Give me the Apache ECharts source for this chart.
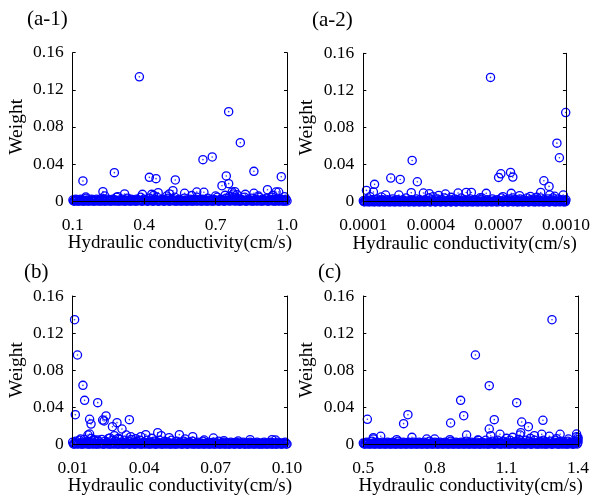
<!DOCTYPE html>
<html><head><meta charset="utf-8">
<script src="https://cdn.jsdelivr.net/npm/echarts@6/dist/echarts.min.js"></script>
<style>html,body{margin:0;padding:0;background:#fff}#c{width:593px;height:498px}</style>
</head><body><div id="c"></div>
<script>
const panelTitles = ['(a-1)', '(a-2)', '(b)', '(c)'];
const xName = 'Hydraulic conductivity(cm/s)';
const yName = 'Weight';
const yTicks = [0, 0.04, 0.08, 0.12, 0.16];
const xRangeA1 = [0.1, 1.0];
const xRangeA2 = [0.0001, 0.0010];
const xRangeB = [0.01, 0.10];
const xRangeC = [0.5, 1.4];
const xTicksA1 = [0.1, 0.4, 0.7, 1.0];
const xTicksA2 = [0.0001, 0.0004, 0.0007, 0.0010];
const xTicksB = [0.01, 0.04, 0.07, 0.10];
const xTicksC = [0.5, 0.8, 1.1, 1.4];
const xLabelsA1 = ['0.1', '0.4', '0.7', '1.0'];
const xLabelsA2 = ['0.0001', '0.0004', '0.0007', '0.0010'];
const xLabelsB = ['0.01', '0.04', '0.07', '0.10'];
const xLabelsC = ['0.5', '0.8', '1.1', '1.4'];

// [hydraulic conductivity, weight] — points standing above the base band
const pointsA1 = [[0.38,0.134],[0.755,0.0964],[0.804,0.0629],[0.686,0.0475],[0.647,0.0446],[0.275,0.0306],[0.861,0.032],[0.143,0.0216],[0.422,0.0255],[0.45,0.0241],[0.531,0.0227],[0.745,0.027],[0.976,0.0262],[0.727,0.0165],[0.755,0.0187],[0.227,0.0101],[0.318,0.0076],[0.393,0.0072],[0.432,0.0072],[0.459,0.009],[0.506,0.0076],[0.521,0.0111],[0.57,0.0083],[0.621,0.0097],[0.651,0.0094],[0.77,0.0097],[0.781,0.01],[0.775,0.0076],[0.825,0.0072],[0.861,0.0083],[0.918,0.0122],[0.954,0.0097],[0.965,0.0097],[0.989,0.0047],[0.155,0.0043],[0.235,0.0054],[0.29,0.0047],[0.44,0.006],[0.495,0.0054],[0.6,0.0058],[0.7,0.0054],[0.74,0.0061],[0.79,0.0068],[0.88,0.0054],[0.94,0.0061]];
const pointsA2 = [[0.000665,0.134],[0.000999,0.0961],[0.00096,0.0631],[0.000971,0.0474],[0.000317,0.0445],[0.000222,0.0255],[0.000264,0.024],[0.00034,0.0215],[0.000114,0.0122],[0.00015,0.0187],[0.000145,0.0104],[0.000701,0.0262],[0.000711,0.0301],[0.000754,0.0316],[0.000764,0.0265],[0.000902,0.0226],[0.000925,0.0165],[0.000888,0.01],[0.000928,0.0072],[0.000988,0.0072],[0.000199,0.0072],[0.000258,0.0072],[0.000313,0.0097],[0.000367,0.0093],[0.000393,0.0086],[0.000435,0.0068],[0.000465,0.0083],[0.000521,0.0093],[0.000557,0.01],[0.00058,0.01],[0.000646,0.009],[0.000757,0.009],[0.000794,0.0065],[0.000842,0.0057],[0.00013,0.0054],[0.00018,0.005],[0.00041,0.0054],[0.00049,0.0047],[0.00062,0.0043],[0.00072,0.0054],[0.00087,0.0047],[0.00095,0.0058]];
const pointsB = [[0.0108,0.1344],[0.012,0.0962],[0.0143,0.0634],[0.015,0.0472],[0.0205,0.0447],[0.0111,0.0317],[0.0171,0.0267],[0.0177,0.0216],[0.024,0.0303],[0.0226,0.0259],[0.0232,0.0249],[0.0286,0.0231],[0.0338,0.0263],[0.0267,0.0187],[0.0307,0.0162],[0.0164,0.0097],[0.0171,0.0108],[0.0325,0.0097],[0.0344,0.0079],[0.0257,0.0065],[0.0275,0.009],[0.0386,0.0079],[0.0407,0.0101],[0.0457,0.0122],[0.0472,0.009],[0.0548,0.0101],[0.0604,0.0079],[0.0691,0.0065],[0.0845,0.0047],[0.0937,0.0047],[0.0952,0.0043],[0.0188,0.0047],[0.0205,0.0043],[0.0133,0.0054],[0.0292,0.0061],[0.0365,0.0058],[0.0432,0.0061],[0.0505,0.0068],[0.0572,0.0054],[0.0652,0.0043],[0.0735,0.0036],[0.0795,0.0032]];
const pointsC = [[1.291,0.1344],[0.97,0.0962],[1.028,0.0631],[0.908,0.0472],[1.143,0.0447],[0.517,0.0267],[0.687,0.0317],[0.669,0.022],[0.866,0.0227],[0.921,0.0306],[1.049,0.0263],[1.028,0.0162],[1.164,0.0238],[1.192,0.0187],[1.253,0.0256],[1.16,0.0122],[0.933,0.0097],[1.034,0.009],[1.073,0.0105],[0.573,0.0083],[0.542,0.0068],[0.704,0.0072],[0.766,0.0054],[0.799,0.0054],[0.863,0.0047],[1.126,0.0072],[1.217,0.009],[1.248,0.0105],[1.28,0.0083],[1.325,0.0105],[1.394,0.0108],[1.394,0.0079],[1.157,0.0097],[0.542,0.0054],[0.64,0.0047],[0.98,0.0043],[1.1,0.0061],[1.2,0.0061],[1.31,0.0058],[1.36,0.0054]];

// [hydraulic conductivity, weight] — the dense cloud of near-zero weights
const bandA1 = [[0.101,0.001],[0.106,0],[0.113,0.002],[0.119,0.001],[0.127,0],[0.134,0.002],[0.141,0.001],[0.148,0],[0.156,0.003],[0.162,0.001],[0.17,0],[0.179,0.002],[0.185,0.001],[0.192,0],[0.2,0.002],[0.208,0.001],[0.217,0],[0.223,0.003],[0.231,0.001],[0.238,0],[0.246,0.002],[0.255,0.001],[0.261,0],[0.269,0.002],[0.278,0.001],[0.284,0.004],[0.291,0],[0.299,0.001],[0.309,0.002],[0.316,0],[0.322,0.001],[0.33,0.003],[0.339,0],[0.345,0.002],[0.353,0.001],[0.362,0],[0.368,0.002],[0.376,0.001],[0.385,0.004],[0.391,0],[0.399,0.002],[0.408,0.001],[0.414,0],[0.422,0.003],[0.431,0.001],[0.437,0],[0.445,0.002],[0.454,0.004],[0.46,0],[0.468,0.001],[0.477,0.002],[0.483,0],[0.491,0.001],[0.5,0.003],[0.506,0],[0.514,0.002],[0.523,0.001],[0.529,0.004],[0.537,0],[0.546,0.002],[0.552,0.001],[0.56,0],[0.569,0.003],[0.575,0.001],[0.583,0],[0.592,0.002],[0.598,0.001],[0.606,0],[0.615,0.002],[0.621,0.004],[0.629,0.001],[0.638,0],[0.644,0.002],[0.652,0.001],[0.661,0],[0.667,0.003],[0.675,0.001],[0.684,0],[0.69,0.002],[0.698,0.001],[0.707,0.004],[0.713,0],[0.721,0.002],[0.73,0.001],[0.736,0],[0.744,0.003],[0.753,0.001],[0.759,0.005],[0.767,0.002],[0.776,0.004],[0.782,0.001],[0.79,0.003],[0.799,0],[0.805,0.002],[0.813,0.001],[0.822,0.004],[0.828,0],[0.836,0.002],[0.845,0.001],[0.851,0.003],[0.859,0],[0.868,0.002],[0.874,0.001],[0.882,0.004],[0.891,0],[0.897,0.002],[0.905,0.001],[0.914,0.003],[0.92,0],[0.928,0.002],[0.937,0.004],[0.943,0.001],[0.951,0],[0.96,0.003],[0.966,0.001],[0.974,0.002],[0.983,0],[0.989,0.001],[0.996,0.002],[1.0,0]];
const zeroA1 = [[0.104,0],[0.11,0.0005],[0.116,0],[0.123,0],[0.131,0.0005],[0.138,0],[0.145,0],[0.152,0.0005],[0.159,0],[0.166,0],[0.175,0.0005],[0.182,0],[0.189,0],[0.196,0.0005],[0.204,0],[0.212,0],[0.22,0.0005],[0.227,0],[0.235,0],[0.242,0.0005],[0.25,0],[0.258,0],[0.265,0.0005],[0.273,0],[0.281,0],[0.288,0.0005],[0.295,0],[0.304,0],[0.312,0.0005],[0.319,0],[0.326,0],[0.335,0.0005],[0.342,0],[0.349,0],[0.357,0.0005],[0.365,0],[0.372,0],[0.38,0.0005],[0.388,0],[0.395,0],[0.403,0.0005],[0.411,0],[0.418,0],[0.426,0.0005],[0.434,0],[0.441,0],[0.449,0.0005],[0.457,0],[0.464,0],[0.472,0.0005],[0.48,0],[0.487,0],[0.495,0.0005],[0.503,0],[0.51,0],[0.518,0.0005],[0.526,0],[0.533,0],[0.541,0.0005],[0.549,0],[0.556,0],[0.564,0.0005],[0.572,0],[0.579,0],[0.587,0.0005],[0.595,0],[0.602,0],[0.61,0.0005],[0.618,0],[0.625,0],[0.633,0.0005],[0.641,0],[0.648,0],[0.656,0.0005],[0.664,0],[0.671,0],[0.679,0.0005],[0.687,0],[0.694,0],[0.702,0.0005],[0.71,0],[0.717,0],[0.725,0.0005],[0.733,0],[0.74,0],[0.748,0.0005],[0.756,0],[0.763,0],[0.771,0.0005],[0.779,0],[0.786,0],[0.794,0.0005],[0.802,0],[0.809,0],[0.817,0.0005],[0.825,0],[0.832,0],[0.84,0.0005],[0.848,0],[0.855,0],[0.863,0.0005],[0.871,0],[0.878,0],[0.886,0.0005],[0.894,0],[0.901,0],[0.909,0.0005],[0.917,0],[0.924,0],[0.932,0.0005],[0.94,0],[0.947,0],[0.955,0.0005],[0.963,0],[0.97,0],[0.978,0.0005],[0.986,0],[0.993,0]];
const bandA2 = [[1.0e-4,0.001],[1.06e-4,0],[1.14e-4,0.002],[1.21e-4,0.001],[1.29e-4,0],[1.37e-4,0.002],[1.44e-4,0.001],[1.52e-4,0],[1.61e-4,0.003],[1.67e-4,0.001],[1.75e-4,0],[1.84e-4,0.002],[1.9e-4,0.001],[1.98e-4,0],[2.07e-4,0.002],[2.13e-4,0.001],[2.21e-4,0],[2.3e-4,0.003],[2.36e-4,0.001],[2.44e-4,0],[2.53e-4,0.002],[2.59e-4,0.001],[2.67e-4,0],[2.76e-4,0.002],[2.82e-4,0.001],[2.9e-4,0.004],[2.99e-4,0],[3.05e-4,0.001],[3.13e-4,0.002],[3.22e-4,0],[3.28e-4,0.001],[3.36e-4,0.003],[3.45e-4,0],[3.51e-4,0.002],[3.59e-4,0.001],[3.68e-4,0],[3.74e-4,0.002],[3.82e-4,0.001],[3.91e-4,0.004],[3.97e-4,0],[4.05e-4,0.002],[4.14e-4,0.001],[4.2e-4,0],[4.28e-4,0.003],[4.37e-4,0.001],[4.43e-4,0],[4.51e-4,0.002],[4.6e-4,0.004],[4.66e-4,0],[4.74e-4,0.001],[4.83e-4,0.002],[4.89e-4,0],[4.97e-4,0.001],[5.06e-4,0.003],[5.12e-4,0],[5.2e-4,0.002],[5.29e-4,0.001],[5.35e-4,0.004],[5.43e-4,0],[5.52e-4,0.002],[5.58e-4,0.001],[5.66e-4,0],[5.75e-4,0.003],[5.81e-4,0.001],[5.89e-4,0],[5.98e-4,0.002],[6.04e-4,0.001],[6.12e-4,0],[6.21e-4,0.002],[6.27e-4,0.004],[6.35e-4,0.001],[6.44e-4,0],[6.5e-4,0.002],[6.58e-4,0.001],[6.67e-4,0],[6.73e-4,0.003],[6.81e-4,0.001],[6.9e-4,0],[6.96e-4,0.002],[7.04e-4,0.001],[7.13e-4,0.004],[7.19e-4,0],[7.27e-4,0.002],[7.36e-4,0.001],[7.42e-4,0],[7.5e-4,0.003],[7.59e-4,0.001],[7.65e-4,0.004],[7.73e-4,0.002],[7.82e-4,0],[7.88e-4,0.001],[7.96e-4,0.003],[8.05e-4,0],[8.11e-4,0.002],[8.19e-4,0.001],[8.28e-4,0.004],[8.34e-4,0],[8.42e-4,0.002],[8.51e-4,0.001],[8.57e-4,0.003],[8.65e-4,0],[8.74e-4,0.002],[8.8e-4,0.001],[8.88e-4,0.004],[8.97e-4,0],[9.03e-4,0.002],[9.11e-4,0.001],[9.2e-4,0.003],[9.26e-4,0],[9.34e-4,0.002],[9.43e-4,0.004],[9.49e-4,0.001],[9.57e-4,0],[9.66e-4,0.003],[9.72e-4,0.001],[9.8e-4,0.002],[9.89e-4,0],[9.95e-4,0.001],[1.0e-3,0.002]];
const zeroA2 = [[1.03e-4,0],[1.1e-4,0.0005],[1.17e-4,0],[1.25e-4,0],[1.33e-4,0.0005],[1.4e-4,0],[1.48e-4,0],[1.56e-4,0.0005],[1.64e-4,0],[1.71e-4,0],[1.79e-4,0.0005],[1.87e-4,0],[1.94e-4,0],[2.02e-4,0.0005],[2.1e-4,0],[2.17e-4,0],[2.25e-4,0.0005],[2.33e-4,0],[2.4e-4,0],[2.48e-4,0.0005],[2.56e-4,0],[2.63e-4,0],[2.71e-4,0.0005],[2.79e-4,0],[2.86e-4,0],[2.94e-4,0.0005],[3.02e-4,0],[3.09e-4,0],[3.17e-4,0.0005],[3.25e-4,0],[3.32e-4,0],[3.4e-4,0.0005],[3.48e-4,0],[3.55e-4,0],[3.63e-4,0.0005],[3.71e-4,0],[3.78e-4,0],[3.86e-4,0.0005],[3.94e-4,0],[4.01e-4,0],[4.09e-4,0.0005],[4.17e-4,0],[4.24e-4,0],[4.32e-4,0.0005],[4.4e-4,0],[4.47e-4,0],[4.55e-4,0.0005],[4.63e-4,0],[4.7e-4,0],[4.78e-4,0.0005],[4.86e-4,0],[4.93e-4,0],[5.01e-4,0.0005],[5.09e-4,0],[5.16e-4,0],[5.24e-4,0.0005],[5.32e-4,0],[5.39e-4,0],[5.47e-4,0.0005],[5.55e-4,0],[5.62e-4,0],[5.7e-4,0.0005],[5.78e-4,0],[5.85e-4,0],[5.93e-4,0.0005],[6.01e-4,0],[6.08e-4,0],[6.16e-4,0.0005],[6.24e-4,0],[6.31e-4,0],[6.39e-4,0.0005],[6.47e-4,0],[6.54e-4,0],[6.62e-4,0.0005],[6.7e-4,0],[6.77e-4,0],[6.85e-4,0.0005],[6.93e-4,0],[7.0e-4,0],[7.08e-4,0.0005],[7.16e-4,0],[7.23e-4,0],[7.31e-4,0.0005],[7.39e-4,0],[7.46e-4,0],[7.54e-4,0.0005],[7.62e-4,0],[7.69e-4,0],[7.77e-4,0.0005],[7.85e-4,0],[7.92e-4,0],[8.0e-4,0.0005],[8.08e-4,0],[8.15e-4,0],[8.23e-4,0.0005],[8.31e-4,0],[8.38e-4,0],[8.46e-4,0.0005],[8.54e-4,0],[8.61e-4,0],[8.69e-4,0.0005],[8.77e-4,0],[8.84e-4,0],[8.92e-4,0.0005],[9.0e-4,0],[9.07e-4,0],[9.15e-4,0.0005],[9.23e-4,0],[9.3e-4,0],[9.38e-4,0.0005],[9.46e-4,0],[9.53e-4,0],[9.61e-4,0.0005],[9.69e-4,0],[9.76e-4,0],[9.84e-4,0.0005],[9.92e-4,0],[9.98e-4,0]];
const bandB = [[0.01,0.002],[0.0106,0],[0.0113,0.003],[0.0121,0.001],[0.0128,0.004],[0.0136,0],[0.0142,0.002],[0.0149,0.005],[0.0157,0.001],[0.0163,0.003],[0.0171,0],[0.0178,0.006],[0.0186,0.002],[0.0192,0.004],[0.0199,0],[0.0207,0.003],[0.0214,0.001],[0.0222,0.005],[0.0229,0],[0.0236,0.003],[0.0244,0.002],[0.0251,0.006],[0.0258,0],[0.0266,0.004],[0.0273,0.001],[0.028,0.003],[0.0288,0],[0.0295,0.005],[0.0302,0.002],[0.031,0],[0.0317,0.004],[0.0324,0.001],[0.0332,0.003],[0.0339,0],[0.0346,0.005],[0.0354,0.002],[0.0361,0],[0.0368,0.003],[0.0376,0.001],[0.0383,0.004],[0.039,0],[0.0398,0.002],[0.0405,0.001],[0.0412,0.004],[0.042,0],[0.0427,0.002],[0.0434,0.001],[0.0442,0.003],[0.0449,0],[0.0456,0.002],[0.0464,0.004],[0.0471,0.001],[0.0478,0],[0.0486,0.003],[0.0493,0.001],[0.05,0.002],[0.0508,0],[0.0515,0.004],[0.0522,0.001],[0.053,0],[0.0537,0.003],[0.0544,0.001],[0.0552,0.002],[0.0559,0],[0.0566,0.003],[0.0574,0.001],[0.0581,0],[0.0588,0.002],[0.0596,0.001],[0.0603,0.003],[0.061,0],[0.0618,0.001],[0.0625,0.002],[0.0632,0],[0.064,0.001],[0.0647,0.003],[0.0654,0],[0.0662,0.001],[0.0669,0.002],[0.0676,0],[0.0684,0.001],[0.0691,0.002],[0.0698,0],[0.0706,0.001],[0.0713,0.003],[0.072,0],[0.0728,0.001],[0.0735,0.002],[0.0742,0],[0.075,0.001],[0.0757,0],[0.0764,0.002],[0.0772,0.001],[0.0779,0],[0.0786,0.002],[0.0794,0.001],[0.0801,0],[0.0808,0.001],[0.0816,0.002],[0.0823,0],[0.083,0.001],[0.0838,0],[0.0845,0.002],[0.0852,0.001],[0.086,0],[0.0867,0.001],[0.0874,0.002],[0.0882,0],[0.0889,0.001],[0.0896,0],[0.0904,0.002],[0.0911,0.001],[0.0918,0],[0.0926,0.001],[0.0933,0.002],[0.094,0],[0.0948,0.001],[0.0955,0],[0.0962,0.002],[0.097,0.001],[0.0977,0],[0.0984,0.001],[0.0992,0.002],[0.1,0]];
const zeroB = [[0.0103,0],[0.011,0.0005],[0.0117,0],[0.0124,0],[0.0132,0.0005],[0.0139,0],[0.0146,0],[0.0153,0.0005],[0.016,0],[0.0167,0],[0.0175,0.0005],[0.0182,0],[0.0189,0],[0.0196,0.0005],[0.0203,0],[0.0211,0],[0.0218,0.0005],[0.0225,0],[0.0233,0],[0.024,0.0005],[0.0247,0],[0.0255,0],[0.0262,0.0005],[0.0269,0],[0.0277,0],[0.0284,0.0005],[0.0291,0],[0.0299,0],[0.0306,0.0005],[0.0313,0],[0.0321,0],[0.0328,0.0005],[0.0335,0],[0.0343,0],[0.035,0.0005],[0.0357,0],[0.0365,0],[0.0372,0.0005],[0.0379,0],[0.0387,0],[0.0394,0.0005],[0.0401,0],[0.0409,0],[0.0416,0.0005],[0.0423,0],[0.0431,0],[0.0438,0.0005],[0.0445,0],[0.0453,0],[0.046,0.0005],[0.0467,0],[0.0475,0],[0.0482,0.0005],[0.0489,0],[0.0497,0],[0.0504,0.0005],[0.0511,0],[0.0519,0],[0.0526,0.0005],[0.0533,0],[0.0541,0],[0.0548,0.0005],[0.0555,0],[0.0563,0],[0.057,0.0005],[0.0577,0],[0.0585,0],[0.0592,0.0005],[0.0599,0],[0.0607,0],[0.0614,0.0005],[0.0621,0],[0.0629,0],[0.0636,0.0005],[0.0643,0],[0.0651,0],[0.0658,0.0005],[0.0665,0],[0.0673,0],[0.068,0.0005],[0.0687,0],[0.0695,0],[0.0702,0.0005],[0.0709,0],[0.0717,0],[0.0724,0.0005],[0.0731,0],[0.0739,0],[0.0746,0.0005],[0.0753,0],[0.0761,0],[0.0768,0.0005],[0.0775,0],[0.0783,0],[0.079,0.0005],[0.0797,0],[0.0805,0],[0.0812,0.0005],[0.0819,0],[0.0827,0],[0.0834,0.0005],[0.0841,0],[0.0849,0],[0.0856,0.0005],[0.0863,0],[0.0871,0],[0.0878,0.0005],[0.0885,0],[0.0893,0],[0.09,0.0005],[0.0907,0],[0.0915,0],[0.0922,0.0005],[0.0929,0],[0.0937,0],[0.0944,0.0005],[0.0951,0],[0.0959,0],[0.0966,0.0005],[0.0973,0],[0.0981,0],[0.0988,0.0005],[0.0996,0]];
const bandC = [[0.5,0.001],[0.507,0],[0.514,0.002],[0.521,0.001],[0.529,0],[0.536,0.003],[0.543,0.001],[0.551,0],[0.558,0.002],[0.565,0.001],[0.573,0],[0.58,0.002],[0.587,0.001],[0.595,0],[0.602,0.002],[0.609,0.001],[0.617,0],[0.624,0.002],[0.631,0.001],[0.639,0],[0.646,0.003],[0.653,0.001],[0.661,0],[0.668,0.002],[0.675,0.001],[0.683,0],[0.69,0.002],[0.697,0.001],[0.705,0],[0.712,0.002],[0.719,0.001],[0.727,0],[0.734,0.002],[0.741,0.001],[0.749,0],[0.756,0.002],[0.763,0.001],[0.771,0],[0.778,0.003],[0.785,0.001],[0.793,0],[0.8,0.002],[0.807,0.001],[0.815,0],[0.822,0.002],[0.829,0.001],[0.837,0],[0.844,0.002],[0.851,0.001],[0.859,0],[0.866,0.003],[0.873,0.001],[0.881,0],[0.888,0.002],[0.895,0.001],[0.903,0],[0.91,0.002],[0.917,0.001],[0.925,0],[0.932,0.003],[0.939,0.001],[0.947,0],[0.954,0.002],[0.961,0.001],[0.969,0],[0.976,0.002],[0.983,0.004],[0.991,0],[0.998,0.002],[1.005,0.001],[1.013,0.004],[1.02,0],[1.027,0.002],[1.035,0.001],[1.042,0.003],[1.049,0],[1.057,0.002],[1.064,0.004],[1.071,0.001],[1.079,0],[1.086,0.003],[1.093,0.001],[1.101,0.002],[1.108,0],[1.115,0.004],[1.123,0.001],[1.13,0.002],[1.137,0],[1.145,0.003],[1.152,0.005],[1.159,0.001],[1.167,0.002],[1.174,0],[1.181,0.004],[1.189,0.001],[1.196,0.003],[1.203,0],[1.211,0.002],[1.218,0.004],[1.225,0.001],[1.233,0],[1.24,0.003],[1.247,0.001],[1.255,0.004],[1.262,0],[1.269,0.002],[1.277,0.001],[1.284,0.003],[1.291,0],[1.299,0.002],[1.306,0.004],[1.313,0.001],[1.321,0],[1.328,0.003],[1.335,0.001],[1.343,0.002],[1.35,0],[1.357,0.003],[1.365,0.001],[1.372,0.002],[1.379,0],[1.387,0.001],[1.394,0.003],[1.4,0.002],[1.4,0.005],[1.4,0.007]];
const zeroC = [[0.503,0],[0.51,0.0005],[0.517,0],[0.525,0],[0.532,0.0005],[0.54,0],[0.547,0],[0.554,0.0005],[0.562,0],[0.569,0],[0.576,0.0005],[0.584,0],[0.591,0],[0.598,0.0005],[0.606,0],[0.613,0],[0.62,0.0005],[0.628,0],[0.635,0],[0.642,0.0005],[0.65,0],[0.657,0],[0.664,0.0005],[0.672,0],[0.679,0],[0.686,0.0005],[0.694,0],[0.701,0],[0.708,0.0005],[0.716,0],[0.723,0],[0.73,0.0005],[0.738,0],[0.745,0],[0.752,0.0005],[0.76,0],[0.767,0],[0.774,0.0005],[0.782,0],[0.789,0],[0.796,0.0005],[0.804,0],[0.811,0],[0.818,0.0005],[0.826,0],[0.833,0],[0.84,0.0005],[0.848,0],[0.855,0],[0.862,0.0005],[0.87,0],[0.877,0],[0.884,0.0005],[0.892,0],[0.899,0],[0.906,0.0005],[0.914,0],[0.921,0],[0.928,0.0005],[0.936,0],[0.943,0],[0.95,0.0005],[0.958,0],[0.965,0],[0.972,0.0005],[0.98,0],[0.987,0],[0.994,0.0005],[1.002,0],[1.009,0],[1.016,0.0005],[1.024,0],[1.031,0],[1.038,0.0005],[1.046,0],[1.053,0],[1.06,0.0005],[1.068,0],[1.075,0],[1.082,0.0005],[1.09,0],[1.097,0],[1.104,0.0005],[1.112,0],[1.119,0],[1.126,0.0005],[1.134,0],[1.141,0],[1.148,0.0005],[1.156,0],[1.163,0],[1.17,0.0005],[1.178,0],[1.185,0],[1.192,0.0005],[1.2,0],[1.207,0],[1.214,0.0005],[1.222,0],[1.229,0],[1.236,0.0005],[1.244,0],[1.251,0],[1.258,0.0005],[1.266,0],[1.273,0],[1.28,0.0005],[1.288,0],[1.295,0],[1.302,0.0005],[1.31,0],[1.317,0],[1.324,0.0005],[1.332,0],[1.339,0],[1.346,0.0005],[1.354,0],[1.361,0],[1.368,0.0005],[1.376,0],[1.383,0],[1.39,0.0005],[1.397,0]];

const FONT = '"Liberation Serif", "Times New Roman", serif';
const BLUE = '#0000ff';
const grids = [
  {left: 72.7, top: 52.7, width: 214.3, height: 148.3},
  {left: 363.3, top: 53.3, width: 209.4, height: 148.4},
  {left: 72.7, top: 296, width: 214.3, height: 148},
  {left: 363.3, top: 296, width: 214.7, height: 148}
];
const titlePos = [{left: 27, top: 8.5}, {left: 312, top: 9.5}, {left: 24, top: 262}, {left: 318, top: 262}];
const panels = [
  {range: xRangeA1, ticks: xTicksA1, labels: xLabelsA1, pts: pointsA1, band: bandA1.concat(zeroA1)},
  {range: xRangeA2, ticks: xTicksA2, labels: xLabelsA2, pts: pointsA2, band: bandA2.concat(zeroA2)},
  {range: xRangeB, ticks: xTicksB, labels: xLabelsB, pts: pointsB, band: bandB.concat(zeroB)},
  {range: xRangeC, ticks: xTicksC, labels: xLabelsC, pts: pointsC, band: bandC.concat(zeroC)}
];

const xAxes = [], yAxes = [], series = [], titles = [];
const line = {show: true, lineStyle: {color: '#000', width: 1}};
panels.forEach((p, i) => {
  const span = p.range[1] - p.range[0];
  const fmt = v => {
    const k = p.ticks.findIndex(t => Math.abs(t - v) < span * 1e-6);
    return k >= 0 ? p.labels[k] : '';
  };
  xAxes.push({
    gridIndex: i, type: 'value', position: 'bottom', min: p.range[0], max: p.range[1], z: 5,
    axisLine: line, splitLine: {show: false},
    axisTick: {show: true, inside: true, length: 3, customValues: p.ticks, lineStyle: {color: '#000'}},
    axisLabel: {show: true, customValues: p.ticks, formatter: fmt, margin: 15, color: '#000', fontFamily: FONT, fontSize: 17.5},
    name: xName, nameLocation: 'middle', nameGap: 33, nameMoveOverlap: false,
    nameTextStyle: {color: '#000', fontFamily: FONT, fontSize: 19}
  });
  xAxes.push({
    gridIndex: i, type: 'value', position: 'top', min: p.range[0], max: p.range[1], z: 5,
    axisLine: line, splitLine: {show: false},
    axisTick: {show: true, inside: true, length: 3, customValues: p.ticks, lineStyle: {color: '#000'}},
    axisLabel: {show: false}
  });
  yAxes.push({
    gridIndex: i, type: 'value', position: 'left', min: 0, max: 0.16, interval: 0.04, z: 5,
    axisLine: line, splitLine: {show: false},
    axisTick: {show: true, inside: true, length: 3, lineStyle: {color: '#000'}},
    axisLabel: {show: true, margin: 9, color: '#000', fontFamily: FONT, fontSize: 17.5,
      formatter: v => { const k = yTicks.findIndex(t => Math.abs(t - v) < 1e-9); return k === 0 ? '0' : String(yTicks[k]); }},
    name: yName, nameLocation: 'middle', nameGap: 46, nameRotate: 90, nameMoveOverlap: false,
    nameTextStyle: {color: '#000', fontFamily: FONT, fontSize: 19.5}
  });
  yAxes.push({
    gridIndex: i, type: 'value', position: 'right', min: 0, max: 0.16, interval: 0.04, z: 5,
    axisLine: line, splitLine: {show: false},
    axisTick: {show: true, inside: true, length: 3, lineStyle: {color: '#000'}},
    axisLabel: {show: false}
  });
  const data = p.pts.concat(p.band);
  series.push({
    type: 'scatter', xAxisIndex: 2 * i, yAxisIndex: 2 * i, data: data,
    symbol: 'circle', symbolSize: 8.2, silent: true,
    itemStyle: {color: 'rgba(0,0,0,0)', borderColor: BLUE, borderWidth: 1.3, opacity: 1}
  });
  series.push({
    type: 'scatter', xAxisIndex: 2 * i, yAxisIndex: 2 * i, data: data,
    symbol: 'circle', symbolSize: 1.6, silent: true,
    itemStyle: {color: BLUE}
  });
  titles.push({
    text: panelTitles[i], left: titlePos[i].left, top: titlePos[i].top, padding: 0,
    textStyle: {color: '#000', fontFamily: FONT, fontSize: 21, fontWeight: 'normal'}
  });
});

const chart = echarts.init(document.getElementById('c'), null, {renderer: 'canvas'});
chart.setOption({
  animation: false,
  backgroundColor: '#fff',
  title: titles,
  grid: grids,
  xAxis: xAxes,
  yAxis: yAxes,
  series: series
});
</script></body></html>
